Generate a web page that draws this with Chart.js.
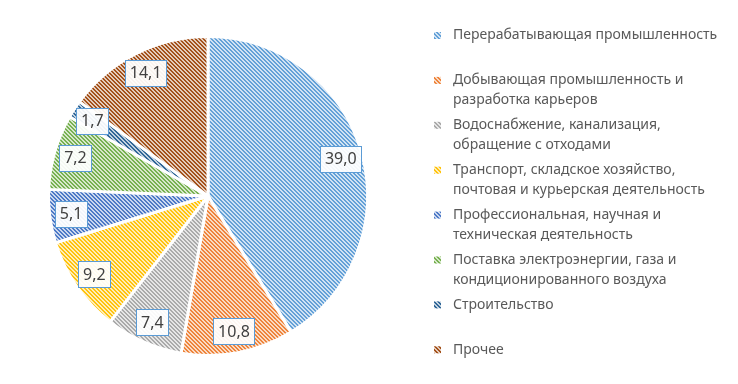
<!DOCTYPE html>
<html><head><meta charset="utf-8">
<script src="https://cdn.jsdelivr.net/npm/chart.js@4/dist/chart.umd.min.js"></script>
<style>html,body{margin:0;padding:0;background:#fff;}#wrap{width:738px;height:384px;position:relative}</style>
</head><body><div id="wrap"><canvas id="c" width="738" height="384"></canvas></div>
<script>
const categories = [
  ['Перерабатывающая промышленность'],
  ['Добывающая промышленность и', 'разработка карьеров'],
  ['Водоснабжение, канализация,', 'обращение с отходами'],
  ['Транспорт, складское хозяйство,', 'почтовая и курьерская деятельность'],
  ['Профессиональная, научная и', 'техническая деятельность'],
  ['Поставка электроэнергии, газа и', 'кондиционированного воздуха'],
  ['Строительство'],
  ['Прочее']
];
const values = [39.0, 10.8, 7.4, 9.2, 5.1, 7.2, 1.7, 14.1];
const baseColors = ['#5B9BD5', '#ED7D31', '#A5A5A5', '#FFC000', '#4472C4', '#70AD47', '#255E91', '#9E480E'];

function hexToRgb(h){return [parseInt(h.slice(1,3),16),parseInt(h.slice(3,5),16),parseInt(h.slice(5,7),16)];}
function mix(h, t){const c=hexToRgb(h);return 'rgb('+c.map(v=>Math.round(v+(255-v)*t)).join(',')+')';}
function makePattern(hex){
  const s=8, cv=document.createElement('canvas'); cv.width=s; cv.height=s;
  const g=cv.getContext('2d');
  g.fillStyle=mix(hex,0.72); g.fillRect(0,0,s,s);
  g.fillStyle=mix(hex,0.05);
  for(let y=0;y<s;y++)for(let x=0;x<s;x++){ if((((x-y)%4)+4)%4<2) g.fillRect(x,y,1,1); }
  return g.createPattern(cv,'repeat');
}
const patterns = baseColors.map(makePattern);

const FONT='"Noto Sans", "Open Sans", sans-serif';

const labelPlugin = {
  id:'boxLabels',
  afterDatasetsDraw(chart){
    const ctx=chart.ctx, meta=chart.getDatasetMeta(0);
    ctx.save();
    ctx.font='16px '+FONT;
    ctx.textAlign='center'; ctx.textBaseline='middle';
    meta.data.forEach((arc,i)=>{
      const p=arc.getProps(['x','y','startAngle','endAngle','outerRadius'],true);
      const a=(p.startAngle+p.endAngle)/2;
      const r=p.outerRadius*0.865;
      const x=p.x+Math.cos(a)*r, y=p.y+Math.sin(a)*r;
      const txt=values[i].toFixed(1).replace('.',',');
      const w=Math.round(ctx.measureText(txt).width+9), h=26;
      const bx=Math.round(x-w/2)+0.5, by=Math.round(y-h/2)+0.5;
      ctx.fillStyle='rgba(255,255,255,0.93)';
      ctx.fillRect(bx,by,w,h);
      ctx.strokeStyle='#5B9BD5'; ctx.lineWidth=1;
      ctx.strokeRect(bx,by,w,h);
      ctx.fillStyle='#404040';
      ctx.fillText(txt,x,y+1);
    });
    ctx.restore();
  }
};
const legendPlugin = {
  id:'sideLegend',
  afterDraw(chart){
    const ctx=chart.ctx;
    ctx.save();
    ctx.font='14px '+FONT;
    ctx.textBaseline='middle'; ctx.textAlign='left';
    chart.data.labels.forEach((lines,i)=>{
      const y0=35.5+i*44.9;
      ctx.fillStyle=patterns[i];
      ctx.fillRect(434,y0-3.5,7,7);
      ctx.fillStyle='#595959';
      lines.forEach((ln,j)=>ctx.fillText(ln,453,y0+j*20));
    });
    ctx.restore();
  }
};

new Chart(document.getElementById('c'),{
  type:'pie',
  data:{labels:categories,datasets:[{data:values,backgroundColor:patterns,borderColor:'#ffffff',borderWidth:3}]},
  options:{
    responsive:false,animation:false,
    layout:{padding:{left:47,top:35,right:369,bottom:27}},
    plugins:{legend:{display:false},tooltip:{enabled:false}}
  },
  plugins:[labelPlugin,legendPlugin]
});
</script></body></html>
